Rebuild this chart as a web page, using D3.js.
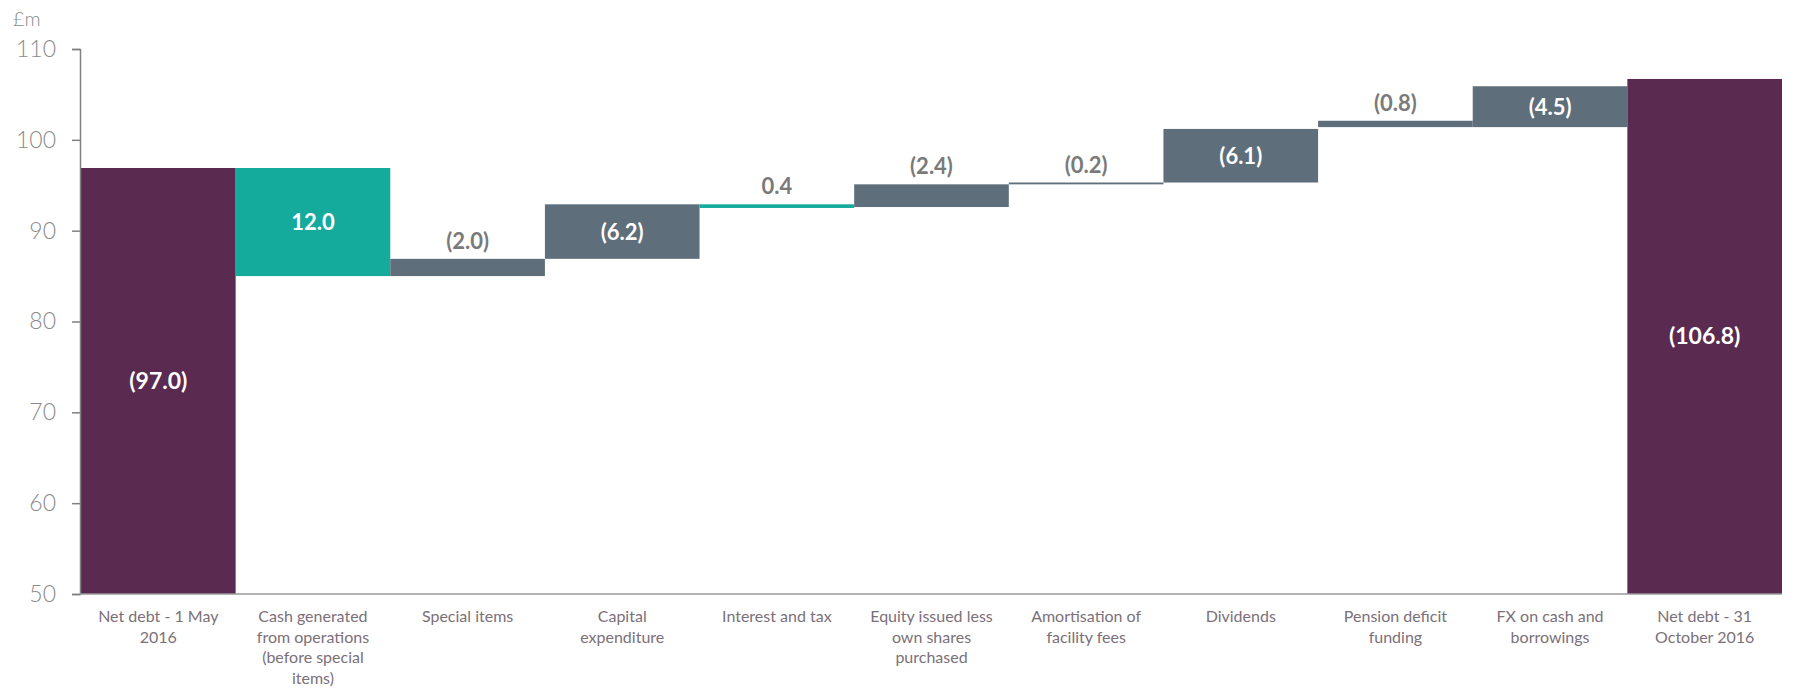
<!DOCTYPE html>
<html lang="en">
<head>
<meta charset="UTF-8">
<title>Net debt bridge</title>
<script src="https://cdn.jsdelivr.net/npm/d3@7/dist/d3.min.js"></script>
<style>
  body { margin: 0; background: #fff; }
  svg { display: block; font-family: Lato, "Open Sans", sans-serif; }
</style>
</head>
<body>
<script>
// categories (line breaks as in the slide)
const categories = [
  "Net debt - 1 May\n2016",
  "Cash generated\nfrom operations\n(before special\nitems)",
  "Special items",
  "Capital\nexpenditure",
  "Interest and tax",
  "Equity issued less\nown shares\npurchased",
  "Amortisation of\nfacility fees",
  "Dividends",
  "Pension deficit\nfunding",
  "FX on cash and\nborrowings",
  "Net debt - 31\nOctober 2016"
];
// printed values, £m
const valueLabels = ["(97.0)", "12.0", "(2.0)", "(6.2)", "0.4", "(2.4)", "(0.2)", "(6.1)", "(0.8)", "(4.5)", "(106.8)"];
// bar type: total / reduces debt / adds to debt
const kinds = ["total", "down", "up", "up", "down", "up", "up", "up", "up", "up", "total"];
// bar bottoms and tops as drawn on the slide
const barLow  = [50, 85.0, 85.0, 86.9, 92.5, 92.6, 95.1, 95.3, 101.4, 101.4, 50];
const barHigh = [96.9, 96.9, 86.9, 92.9, 92.9, 95.1, 95.3, 101.2, 102.1, 105.9, 106.7];
const yTicks = [50, 60, 70, 80, 90, 100, 110];

const width = 1793, height = 690;
const margin = {top: 49, right: 11, bottom: 96, left: 81};

const svg = d3.select("body").append("svg")
  .attr("width", width).attr("height", height);

const x = d3.scaleBand()
  .domain(categories)
  .range([margin.left, width - margin.right])
  .padding(0);

const y = d3.scaleLinear()
  .domain([50, 110])
  .range([height - margin.bottom, margin.top]);

let steps = categories.map((c, i) => ({
  cat: c, lo: barLow[i], hi: barHigh[i], label: valueLabels[i], kind: kinds[i]
}));

function fillColor (d) {
  if (d.kind === "total") return "#5a2a51";
  if (d.kind === "down") return "#14aa9c";
  return "#5f6e7b";
}

// label goes inside when the bar is tall enough
function inside (d) {
  return (d.hi - d.lo) >= 4;
}

svg.append("g")
  .selectAll("rect")
  .data(steps)
  .enter()
  .append("rect")
  .attr("x", d => x(d.cat))
  .attr("width", x.bandwidth())
  .attr("y", d => y(d.hi))
  .attr("height", d => Math.max(1.5, y(d.lo) - y(d.hi)))
  .attr("fill", fillColor);

svg.append("g")
  .selectAll("text")
  .data(steps)
  .enter()
  .append("text")
  .attr("x", d => x(d.cat) + x.bandwidth() / 2)
  .attr("y", d => inside(d) ? (y(d.hi) + y(d.lo)) / 2 + 8 : y(d.hi) - 10)
  .attr("text-anchor", "middle")
  .attr("font-size", d => d.kind === "total" ? 23 : 22)
  .attr("font-weight", "bold")
  .attr("fill", d => inside(d) ? "#ffffff" : "#7a7a7a")
  .text(d => d.label);

// y axis
const yAxis = svg.append("g")
  .attr("transform", `translate(${margin.left - 1},0)`)
  .call(d3.axisLeft(y).tickValues(yTicks).tickSize(8).tickSizeOuter(8).tickPadding(16));
yAxis.select(".domain").attr("stroke", "#808080").attr("stroke-width", 1.5);
yAxis.selectAll(".tick line").attr("stroke", "#808080").attr("stroke-width", 1.5);
yAxis.selectAll(".tick text")
  .attr("font-size", 23)
  .attr("font-weight", 300)
  .attr("fill", "#8a8a8a")
  .style("font-family", "Lato, sans-serif");

svg.append("text")
  .attr("x", 13).attr("y", 26)
  .attr("font-size", 20)
  .attr("font-weight", 300)
  .attr("fill", "#8a8a8a")
  .text("£m");

// baseline
svg.append("line")
  .attr("x1", margin.left - 1).attr("x2", width - margin.right)
  .attr("y1", y(50)).attr("y2", y(50))
  .attr("stroke", "#9a9a9a").attr("stroke-width", 1.5);

// x labels
const xl = svg.append("g")
  .selectAll("text")
  .data(categories)
  .enter()
  .append("text")
  .attr("x", d => x(d) + x.bandwidth() / 2)
  .attr("y", y(50) + 28)
  .attr("text-anchor", "middle")
  .attr("font-size", 16)
  .attr("fill", "#7b7079");
xl.selectAll("tspan")
  .data(d => d.split("\n"))
  .enter()
  .append("tspan")
  .attr("x", function () { return this.parentNode.getAttribute("x"); })
  .attr("dy", (d, i) => i === 0 ? 0 : 20.5)
  .text(d => d);
</script>
</body>
</html>
